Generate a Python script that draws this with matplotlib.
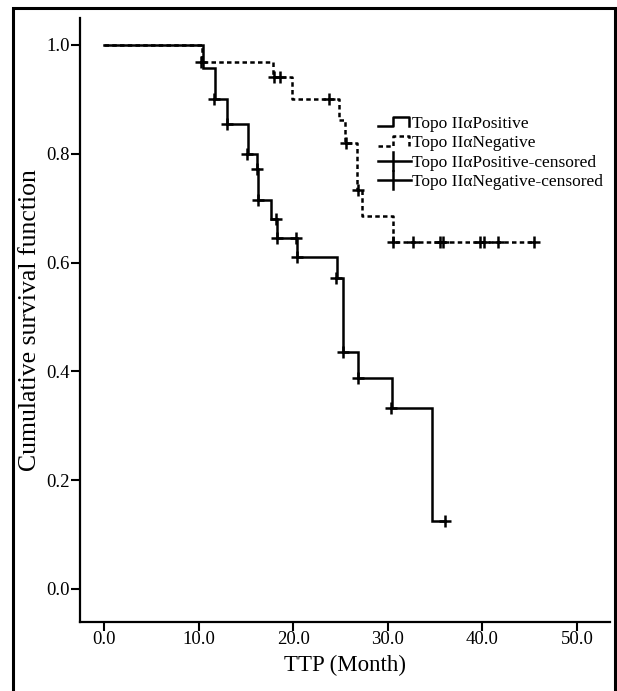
import matplotlib
matplotlib.use("Agg")
import matplotlib.pyplot as plt
from matplotlib.lines import Line2D
from matplotlib.legend_handler import HandlerBase
from matplotlib.patches import Rectangle

# ---------------- data ----------------
pos_times = [0.0, 10.5, 11.7, 13.0, 15.2, 16.2, 16.3, 17.6, 18.3, 20.4, 24.6, 25.3, 26.9, 30.4, 34.7, 36.0]
pos_surv = [1.0, 0.957, 0.900, 0.855, 0.800, 0.772, 0.715, 0.680, 0.645, 0.611, 0.571, 0.436, 0.387, 0.332, 0.125, 0.125]
pos_cens_t = [11.6, 13.0, 15.1, 16.2, 16.3, 18.2, 18.3, 20.3, 20.4, 24.5, 25.3, 26.9, 30.3, 36.0]
pos_cens_s = [0.900, 0.855, 0.800, 0.772, 0.715, 0.680, 0.645, 0.645, 0.611, 0.571, 0.436, 0.387, 0.332, 0.125]

neg_times = [0.0, 10.3, 17.9, 19.9, 24.8, 25.5, 26.7, 27.3, 30.5, 45.5]
neg_surv = [1.0, 0.969, 0.942, 0.900, 0.862, 0.820, 0.733, 0.686, 0.638, 0.638]
neg_cens_t = [10.2, 18.0, 18.6, 23.8, 25.6, 26.9, 30.6, 32.7, 35.5, 35.8, 39.8, 40.2, 41.7, 45.5]
neg_cens_s = [0.969, 0.942, 0.942, 0.900, 0.820, 0.733, 0.638, 0.638, 0.638, 0.638, 0.638, 0.638, 0.638, 0.638]

x_ticks = [0, 10, 20, 30, 40, 50]
y_ticks = [0.0, 0.2, 0.4, 0.6, 0.8, 1.0]
labels = ["Topo IIαPositive", "Topo IIαNegative",
          "Topo IIαPositive-censored", "Topo IIαNegative-censored"]

SERIF = ["Liberation Serif", "DejaVu Serif"]
plt.rcParams["font.family"] = SERIF

W, H = 617, 691
fig = plt.figure(figsize=(W / 100, H / 100), dpi=100)
ax = fig.add_axes([80 / W, 1 - 622 / H, (610 - 80) / W, (622 - 18) / H])

lw = 1.8
dash = (0, (1.8, 1.3))
ax.step(pos_times, pos_surv, where="post", color="black", lw=lw, solid_joinstyle="miter")
ax.step(neg_times, neg_surv, where="post", color="black", lw=lw, linestyle=dash)
ax.plot(pos_cens_t, pos_cens_s, linestyle="none", marker="+", ms=9, mew=1.8, color="black")
ax.plot(neg_cens_t, neg_cens_s, linestyle="none", marker="+", ms=9, mew=1.8, color="black")

ax.set_xlim(-2.55, 53.5)
ax.set_ylim(-0.0607, 1.0496)
ax.set_xticks(x_ticks)
ax.set_xticklabels([f"{v:.1f}" for v in x_ticks])
ax.set_yticks(y_ticks)
ax.set_yticklabels([f"{v:.1f}" for v in y_ticks])
for s in ["top", "right"]:
    ax.spines[s].set_visible(False)
for s in ["left", "bottom"]:
    ax.spines[s].set_linewidth(1.6)
ax.tick_params(axis="both", direction="out", length=6.5, width=1.5, labelsize=13.5, color="black")
ax.tick_params(axis="x", pad=0)
ax.tick_params(axis="y", pad=1)
ax.set_xlabel("TTP (Month)", fontsize=16.5, labelpad=5)
ax.set_ylabel("Cumulative survival function", fontsize=18.5, labelpad=4)


class StepHandler(HandlerBase):
    def __init__(self, ls):
        super().__init__()
        self.ls = ls

    def create_artists(self, legend, orig_handle, xdescent, ydescent, width, height, fontsize, trans):
        x0 = -xdescent
        yc = -ydescent + height / 2
        xs = [x0, x0 + 0.45 * width, x0 + 0.45 * width, x0 + 0.95 * width, x0 + 0.95 * width]
        ys = [yc - 3, yc - 3, yc + 3.5, yc + 3.5, yc - 3]
        ln = Line2D(xs, ys, color="black", lw=lw, linestyle=self.ls, transform=trans)
        return [ln]


class CrossHandler(HandlerBase):
    def create_artists(self, legend, orig_handle, xdescent, ydescent, width, height, fontsize, trans):
        x0 = -xdescent
        yc = -ydescent + height / 2
        l1 = Line2D([x0, x0 + width], [yc, yc], color="black", lw=lw, transform=trans)
        l2 = Line2D([x0 + 0.45 * width, x0 + 0.45 * width], [yc - 6.5, yc + 6.5], color="black", lw=lw, transform=trans)
        return [l1, l2]


class H1: pass
class H2: pass
class H3: pass
class H4: pass
handles = [H1(), H2(), H3(), H4()]
leg = fig.legend(handles, labels, loc="upper left",
                 bbox_to_anchor=(378 / W, 1 - 116 / H), bbox_transform=fig.transFigure,
                 frameon=False, fontsize=12.5, handlelength=1.9, handletextpad=0.05,
                 labelspacing=0.18, borderpad=0, borderaxespad=0,
                 handler_map={H1: StepHandler("-"), H2: StepHandler(dash),
                              H3: CrossHandler(), H4: CrossHandler()})

# outer border frame (bottom edge cut off)
fig.patches.append(Rectangle((13 / W, -0.05), (615 - 13) / W, 1.05 - 8 / H, transform=fig.transFigure,
                             fill=False, edgecolor="black", lw=2.2))

fig.savefig("out.png", dpi=100)
